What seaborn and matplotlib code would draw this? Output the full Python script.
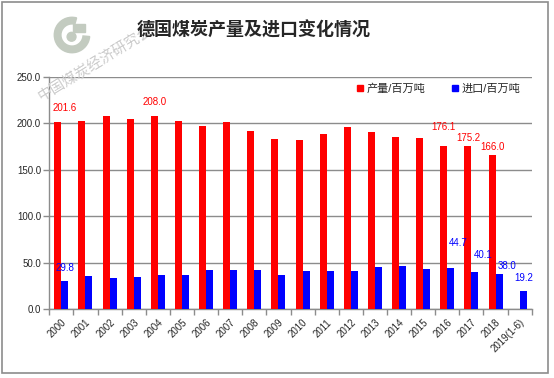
import numpy as np
import pandas as pd
import matplotlib
matplotlib.use("Agg")
import matplotlib.pyplot as plt
import matplotlib.patches as mpatches
from matplotlib.lines import Line2D
import seaborn as sns

# Data
years = ['2000', '2001', '2002', '2003', '2004', '2005', '2006', '2007', '2008', '2009',
         '2010', '2011', '2012', '2013', '2014', '2015', '2016', '2017', '2018', '2019(1-6)']
production = [201.6, 202.6, 207.9, 204.7, 208.0, 202.6, 197.2, 201.5, 191.8, 183.2,
              182.1, 188.6, 196.1, 190.7, 185.3, 184.3, 176.1, 175.2, 166.0, np.nan]
imports = [29.8, 35.6, 33.4, 34.5, 36.6, 36.6, 42.0, 42.0, 42.0, 36.6,
           40.9, 40.9, 40.9, 45.3, 46.3, 43.1, 44.7, 40.1, 38.0, 19.2]
series_names = ['产量/百万吨', '进口/百万吨']
title = '德国煤炭产量及进口变化情况'
watermark = '中国煤炭经济研究会'

# which bars carry a value label
prod_labelled = ['2000', '2004', '2016', '2017', '2018']
imp_labelled = ['2000', '2016', '2017', '2018', '2019(1-6)']

sns.set_theme(style="white")
plt.rcParams['font.family'] = ['Liberation Sans', 'Noto Sans CJK SC']

RED = '#FF0000'
BLUE = '#0000FF'
GREY = '#8C8C8C'
LOGO = '#C3CBC0'

df = pd.DataFrame({'year': years, series_names[0]: production, series_names[1]: imports})
long_df = df.melt(id_vars='year', var_name='series', value_name='value')

fig = plt.figure(figsize=(5.54, 3.78), dpi=100)

# watermark logo and text (drawn first so the chart sits on top)
logo_ax = fig.add_axes([72 / 554 - 0.04, 1 - 35 / 378 - 0.0586, 0.08, 0.1172])
logo_ax.set_xlim(-1, 1)
logo_ax.set_ylim(-1, 1)
logo_ax.set_aspect('equal')
logo_ax.axis('off')
logo_ax.add_patch(mpatches.Wedge((0, 0), 0.8, 75, 355, width=0.3, color=LOGO))
logo_ax.add_patch(mpatches.Circle((-0.02, -0.08), 0.2, color=LOGO))
logo_ax.add_patch(mpatches.Rectangle((0.05, 0.12), 0.55, 0.38, color=LOGO))
fig.text(36 / 554, 1 - 104 / 378, watermark, rotation=31.5, fontsize=10.5, color='#CBCBCB',
         family=['Noto Sans CJK SC', 'DejaVu Sans'], ha='left', va='bottom')

ax = fig.add_axes([0.089, 0.1825, 0.8708, 0.6138])
ax.patch.set_alpha(0)

sns.barplot(data=long_df, x='year', y='value', hue='series', hue_order=series_names,
            palette=[RED, BLUE], width=0.58, errorbar=None, saturation=1,
            linewidth=0, legend=False, ax=ax, zorder=3)

# value labels (offsets in pixels from bar top)
prod_offsets = {'2000': (7, 14), '2004': (0, 14), '2016': (0, 19), '2017': (0, 8), '2018': (0, 8)}
imp_offsets = {'2000': (0, 13), '2016': (7, 25), '2017': (8, 17), '2018': (8, 8), '2019(1-6)': (1, 13)}
for y in prod_labelled:
    i = years.index(y)
    ax.annotate(f'{production[i]:.1f}', (i - 0.145, production[i]), xytext=prod_offsets[y],
                textcoords='offset pixels', ha='center', va='center', color=RED, fontsize=7)
for y in imp_labelled:
    i = years.index(y)
    ax.annotate(f'{imports[i]:.1f}', (i + 0.145, imports[i]), xytext=imp_offsets[y],
                textcoords='offset pixels', ha='center', va='center', color=BLUE, fontsize=7)

# axes styling
ax.set_ylim(0, 250)
ax.set_yticks(np.arange(0, 251, 50))
ax.yaxis.set_major_formatter(matplotlib.ticker.FormatStrFormatter('%.1f'))
ax.set_xlim(-0.5, len(years) - 0.5)
ax.set_xlabel('')
ax.set_ylabel('')
ax.yaxis.grid(True, color=GREY, lw=1)
ax.set_axisbelow(True)
for s in ['top', 'right']:
    ax.spines[s].set_visible(False)
for s in ['left', 'bottom']:
    ax.spines[s].set_color(GREY)
    ax.spines[s].set_linewidth(1)

ax.set_xticks(range(len(years)))
ax.set_xticklabels(years, rotation=45, ha='right', rotation_mode='anchor', fontsize=7)
ax.set_xticks(np.arange(-0.5, len(years), 1), minor=True)
ax.tick_params(axis='x', which='major', length=0, pad=6)
ax.tick_params(axis='x', which='minor', length=4, color=GREY, width=1, direction='out')
ax.tick_params(axis='y', length=4, color=GREY, width=1, direction='out', labelsize=7, pad=2)
ax.tick_params(axis='both', which='both', bottom=True, left=True)

# legend
handles = [Line2D([], [], marker='s', ls='', color=RED, markersize=5),
           Line2D([], [], marker='s', ls='', color=BLUE, markersize=5)]
ax.legend(handles, series_names, loc='center right', bbox_to_anchor=(0.985, 0.948),
          ncol=2, frameon=False, fontsize=8, handlelength=0.8, handletextpad=0.2,
          columnspacing=2.2, borderaxespad=0)

# title
fig.text(0.458, 0.921, title, ha='center', va='center', fontsize=13, fontweight='bold',
         family=['Noto Sans CJK SC', 'DejaVu Sans'])

# outer border
fig.patches.append(mpatches.Rectangle((2 / 554, 5 / 378), 546 / 554, 371 / 378,
                                      transform=fig.transFigure, fill=False,
                                      edgecolor=GREY, lw=1.2))

fig.savefig('out.png', dpi=100)
